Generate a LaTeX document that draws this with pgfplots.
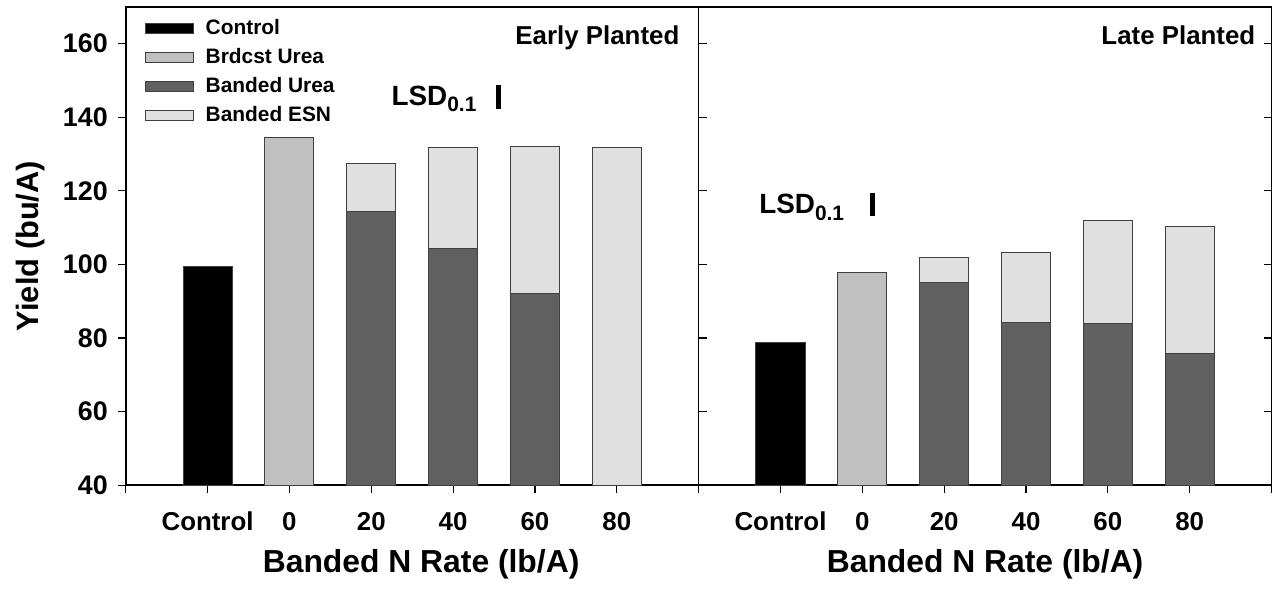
\documentclass[border=0pt]{standalone}
\usepackage{fontspec}
\setmainfont{Liberation Sans}
\usepackage{pgfplots}
\pgfplotsset{compat=1.18}
\definecolor{ctrl}{HTML}{000000}
\definecolor{brd}{HTML}{C0C0C0}
\definecolor{urea}{HTML}{606060}
\definecolor{esn}{HTML}{E0E0E0}

\pgfplotsset{
  panel/.style={
    width=288pt, height=240.5pt, scale only axis,
    ymin=40, ymax=170, xmin=-1, xmax=6,
    ytick={40,60,...,160},
    xtick={-1,0,...,6}, xticklabels={,Control,0,20,40,60,80,},
    xtick pos=bottom,
    ybar, bar width=0.6, bar shift=0pt,
    axis line style={line width=0.8pt},
    major tick length=4pt,
    tick style={black, line width=0.6pt},
    xticklabel style={font=\fontsize{13}{13}\selectfont\bfseries},
    yticklabel style={font=\fontsize{13.5}{13.5}\selectfont\bfseries, xshift=-1.5pt},
    /pgf/number format/assume math mode=true,
    xlabel={Banded N Rate (lb/A)},
    xlabel style={font=\fontsize{16}{16}\selectfont\bfseries, yshift=-2.5pt},
    every axis plot/.append style={draw=black!75, line width=0.5pt},
  },
}
\tikzset{
  lsd/.style={anchor=base west, inner sep=0pt, font=\fontsize{14}{14}\selectfont\bfseries},
  ttl/.style={anchor=north east, inner sep=0pt, font=\fontsize{13}{13}\selectfont\bfseries},
}

\begin{document}
\begin{tikzpicture}
% early planted
\begin{axis}[panel,
    tick align=outside, ytick pos=left,
    xticklabel style={yshift=-6pt},
    xlabel style={xshift=4.5pt},
    ylabel={Yield (bu/A)},
    ylabel style={font=\fontsize{15.5}{15.5}\selectfont\bfseries},
    ylabel shift=2pt,
    legend image code/.code={\draw[#1] (0pt,-2.5pt) rectangle (24pt,2.5pt); \path (28pt,0pt);},
    legend style={draw=none, fill=none, at={(0.033,0.983)}, anchor=north west,
      font=\fontsize{10.5}{10.5}\selectfont\bfseries, inner sep=0pt, row sep=1.5pt},
    legend cell align=left,
  ]
  \addlegendimage{fill=ctrl, draw=black!75}
  \addlegendentry{Control}
  \addlegendimage{fill=brd, draw=black!75}
  \addlegendentry{Brdcst Urea}
  \addlegendimage{fill=urea, draw=black!75}
  \addlegendentry{Banded Urea}
  \addlegendimage{fill=esn, draw=black!75}
  \addlegendentry{Banded ESN}

  \addplot[fill=ctrl, forget plot] coordinates {(0,99.5)};
  \addplot[fill=brd, forget plot] coordinates {(1,134.6)};
  \addplot[fill=esn, forget plot] coordinates {(2,127.5) (3,131.8) (4,132.1) (5,131.8)};
  \addplot[fill=urea, forget plot] coordinates {(2,114.5) (3,104.4) (4,92.2)};

  \addplot[sharp plot, draw=black, line width=2.5pt, forget plot] coordinates {(3.556,148.7) (3.556,142.2)};
  \node[lsd] at (axis cs:2.244,143.3) {LSD\raisebox{-3.5pt}{\fontsize{10.5}{10.5}\selectfont 0.1}};
  \node[ttl, xshift=-9.5pt, yshift=-9.5pt] at (rel axis cs:1,1) {Early Planted};
\end{axis}
% late planted
\begin{axis}[panel, at={(288pt,0)},
    tick align=inside, ytick pos=both, yticklabels={},
    x tick style={yshift=-4pt},
    xticklabel style={yshift=-10pt},
  ]
  \addplot[fill=ctrl] coordinates {(0,78.7)};
  \addplot[fill=brd] coordinates {(1,97.7)};
  \addplot[fill=esn] coordinates {(2,102.0) (3,103.3) (4,111.8) (5,110.4)};
  \addplot[fill=urea] coordinates {(2,95.0) (3,84.2) (4,83.8) (5,75.7)};

  \addplot[sharp plot, draw=black, line width=2.5pt] coordinates {(1.125,119.5) (1.125,113.2)};
  \node[lsd] at (axis cs:-0.263,113.7) {LSD\raisebox{-3.5pt}{\fontsize{10.5}{10.5}\selectfont 0.1}};
  \node[ttl, xshift=-8pt, yshift=-9.5pt] at (rel axis cs:1,1) {Late Planted};
\end{axis}
% the reference is cut just inside the right axis line, with a little white round the rest
\coordinate (bbsw) at (current bounding box.south west);
\coordinate (bbne) at (current bounding box.north east);
\pgfresetboundingbox
\path ([xshift=-5pt, yshift=-2.5pt]bbsw) rectangle ([xshift=-1.6pt, yshift=3pt]bbne);
\end{tikzpicture}
\end{document}
